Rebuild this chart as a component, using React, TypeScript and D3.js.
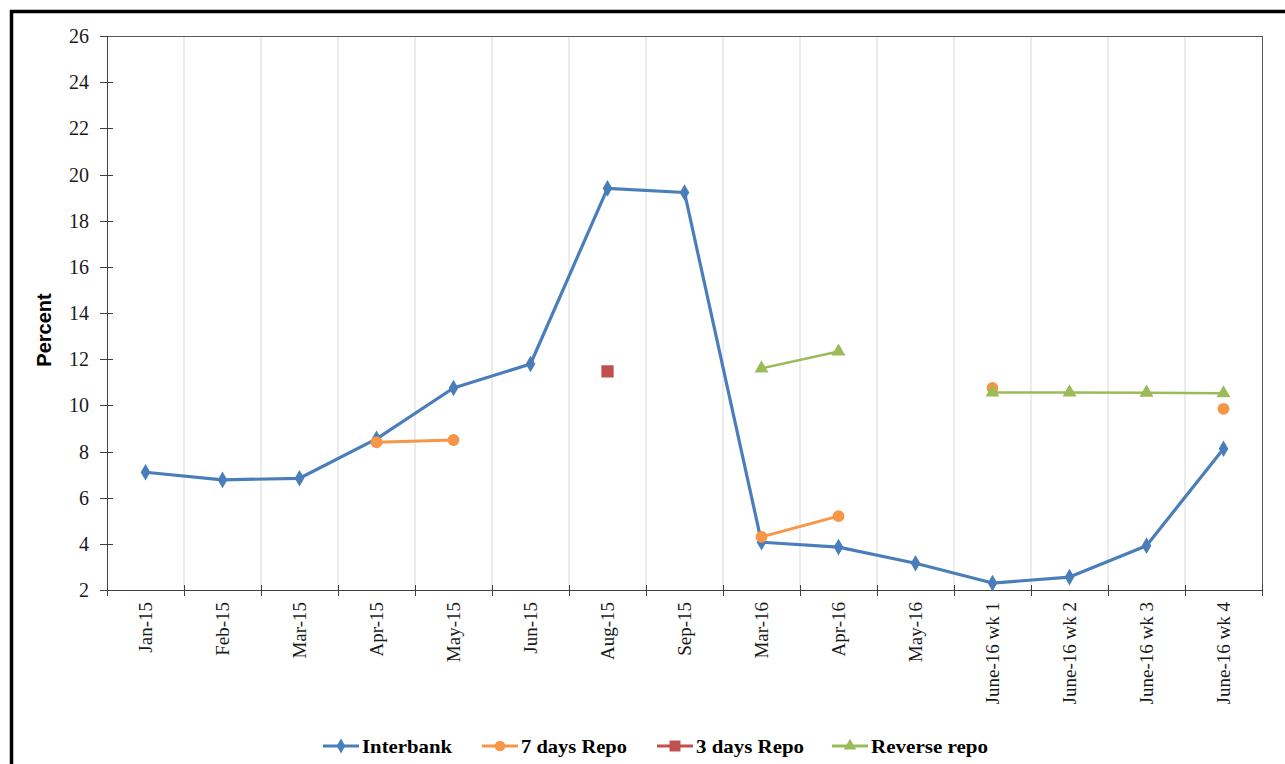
import React, { useEffect, useRef } from 'react';
import * as d3 from 'd3';

const categories = [
  'Jan-15', 'Feb-15', 'Mar-15', 'Apr-15', 'May-15', 'Jun-15', 'Aug-15', 'Sep-15',
  'Mar-16', 'Apr-16', 'May-16', 'June-16 wk 1', 'June-16 wk 2', 'June-16 wk 3', 'June-16 wk 4',
];
const interbank = [7.1, 6.77, 6.84, 8.55, 10.75, 11.79, 19.4, 19.22, 4.07, 3.86, 3.16, 2.3, 2.56, 3.92, 8.12];
const repo7 = [null, null, null, 8.4, 8.5, null, null, null, 4.3, 5.2, null, 10.75, null, null, 9.85];
const repo3 = [null, null, null, null, null, null, 11.47, null, null, null, null, null, null, null, null];
const reverseRepo = [null, null, null, null, null, null, null, null, 11.6, 12.33, null, 10.56, 10.56, 10.55, 10.52];
const yTicks = [2, 4, 6, 8, 10, 12, 14, 16, 18, 20, 22, 24, 26];

const seriesList = [
  { name: 'Interbank', values: interbank, color: '#4a7ebb', width: 3.2, symbol: d3.symbolDiamond, size: 80 },
  { name: '7 days Repo', values: repo7, color: '#f79646', width: 3, symbol: d3.symbolCircle, size: 110 },
  { name: '3 days Repo', values: repo3, color: '#c0504d', width: 3, symbol: d3.symbolSquare, size: 150 },
  { name: 'Reverse repo', values: reverseRepo, color: '#9bbb59', width: 2.5, symbol: d3.symbolTriangle, size: 85 },
];

const App = () => {
  const ref = useRef<SVGSVGElement | null>(null);

  useEffect(() => {
    const svg = d3.select(ref.current);
    svg.selectAll('*').remove();

    const left = 107, right = 1262, top = 36, bottom = 590;
    const x = d3.scaleBand().domain(categories).range([left, right]).padding(0);
    const y = d3.scaleLinear().domain([2, 26]).range([bottom, top]);
    const serif = '"Liberation Serif", "Times New Roman", serif';

    // outer frame
    svg.append('rect')
      .attr('x', 11.5).attr('y', 11.5).attr('width', 1300).attr('height', 800)
      .attr('fill', 'white').attr('stroke', 'black').attr('stroke-width', 3.5);

    // vertical gridlines at category boundaries
    const bounds = categories.map((c) => x(c) as number).concat([right]);
    svg.append('g').selectAll('line').data(bounds.slice(1, -1)).enter().append('line')
      .attr('x1', (d) => d).attr('x2', (d) => d).attr('y1', top).attr('y2', bottom)
      .attr('stroke', '#d9d9d9').attr('stroke-width', 1);

    // plot box
    svg.append('line').attr('x1', left).attr('x2', right).attr('y1', top + 0.5).attr('y2', top + 0.5)
      .attr('stroke', '#595959');
    svg.append('line').attr('x1', right + 0.5).attr('x2', right + 0.5).attr('y1', top).attr('y2', bottom)
      .attr('stroke', '#595959');
    svg.append('line').attr('x1', left + 0.5).attr('x2', left + 0.5).attr('y1', top).attr('y2', bottom)
      .attr('stroke', '#404040');
    svg.append('line').attr('x1', left - 7).attr('x2', right).attr('y1', bottom + 0.5).attr('y2', bottom + 0.5)
      .attr('stroke', '#404040');

    // y ticks and labels
    const yg = svg.append('g');
    yg.selectAll('line').data(yTicks).enter().append('line')
      .attr('x1', left - 7).attr('x2', (d) => (d === 26 ? left : left + 6))
      .attr('y1', (d) => Math.round(y(d)) + 0.5).attr('y2', (d) => Math.round(y(d)) + 0.5)
      .attr('stroke', '#404040');
    yg.selectAll('text').data(yTicks).enter().append('text')
      .attr('x', left - 18).attr('y', (d) => y(d)).attr('dy', '0.35em')
      .attr('text-anchor', 'end').attr('font-family', serif).attr('font-size', 20)
      .attr('fill', '#1a1a1a').text((d) => d);

    // x ticks and labels
    const xg = svg.append('g');
    xg.selectAll('line').data(bounds).enter().append('line')
      .attr('x1', (d) => d + 0.5).attr('x2', (d) => d + 0.5).attr('y1', bottom - 5).attr('y2', bottom + 6)
      .attr('stroke', '#404040');
    xg.selectAll('text').data(categories).enter().append('text')
      .attr('transform', (d) => `translate(${(x(d) as number) + x.bandwidth() / 2},${bottom + 12}) rotate(-90)`)
      .attr('dy', '0.35em').attr('text-anchor', 'end')
      .attr('font-family', serif).attr('font-size', 19).attr('fill', '#1a1a1a').text((d) => d);

    // y axis title
    svg.append('text')
      .attr('transform', 'translate(44,330) rotate(-90)')
      .attr('dy', '0.35em').attr('text-anchor', 'middle')
      .attr('font-family', '"Liberation Sans", Arial, sans-serif').attr('font-weight', 'bold')
      .attr('font-size', 20).attr('fill', 'black').text('Percent');

    // series
    seriesList.forEach((s) => {
      const pts = categories.map((c, i) => ({ c, v: s.values[i] as number | null }));
      const line = d3.line<{ c: string; v: number | null }>()
        .defined((d) => d.v !== null)
        .x((d) => (x(d.c) as number) + x.bandwidth() / 2)
        .y((d) => y(d.v as number));
      svg.append('path').datum(pts).attr('d', line)
        .attr('fill', 'none').attr('stroke', s.color).attr('stroke-width', s.width)
        .attr('stroke-linejoin', 'round');
      svg.append('g').selectAll('path').data(pts.filter((d) => d.v !== null)).enter().append('path')
        .attr('d', d3.symbol().type(s.symbol).size(s.size)())
        .attr('transform', (d) => `translate(${(x(d.c) as number) + x.bandwidth() / 2},${y(d.v as number)})`)
        .attr('fill', s.color);
    });

    // legend
    const legendX = [323, 482, 657, 832];
    const legendW = [90, 106, 108, 117];
    const ly = 746;
    seriesList.forEach((s, i) => {
      const g = svg.append('g').attr('transform', `translate(${legendX[i]},${ly})`);
      g.append('line').attr('x1', 0).attr('x2', 36).attr('y1', 0).attr('y2', 0)
        .attr('stroke', s.color).attr('stroke-width', 3);
      g.append('path').attr('d', d3.symbol().type(s.symbol).size(s.size * 0.8)())
        .attr('transform', 'translate(18,0)').attr('fill', s.color);
      g.append('text').attr('x', 39).attr('y', 0).attr('dy', '0.35em')
        .attr('font-family', serif).attr('font-weight', 'bold').attr('font-size', 19)
        .attr('textLength', legendW[i]).attr('lengthAdjust', 'spacingAndGlyphs')
        .attr('fill', 'black').text(s.name);
    });
  }, []);

  return (
    <svg ref={ref} width={1285} height={764}
      style={{ position: 'absolute', left: 0, top: 0, background: 'white' }} />
  );
};

export default App;
